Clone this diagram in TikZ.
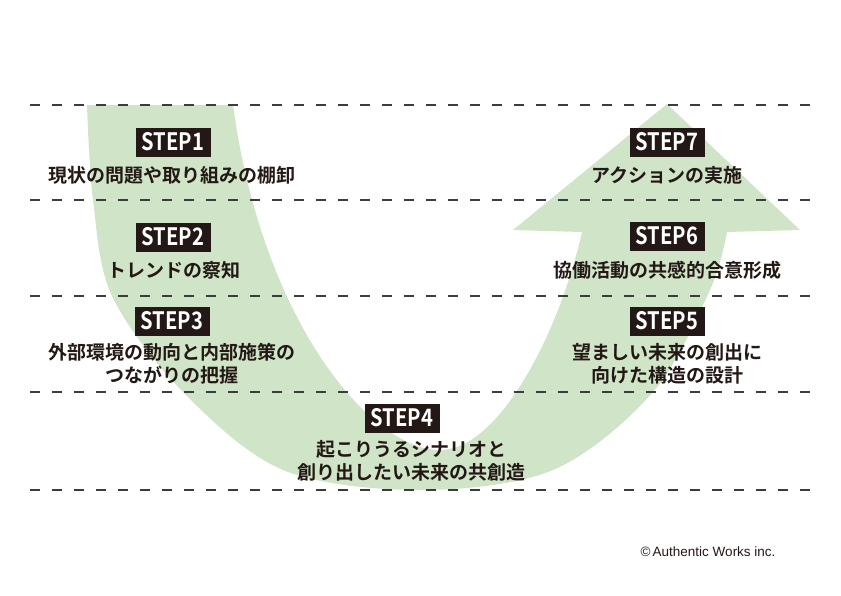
\documentclass[tikz,border=0pt]{standalone}
\usepackage{fontspec}
\usepackage{xcolor}
\definecolor{AWgreen}{HTML}{D0E5C7}
\definecolor{AWink}{HTML}{231815}
\definecolor{AWdash}{HTML}{3C3C3C}
\newfontfamily\jpfont[UprightFont=* Bold]{Noto Sans CJK JP}
\newfontfamily\stepfont[UprightFont=* Bold, FakeStretch=0.84]{Noto Sans CJK JP}
\newfontfamily\notefont{Liberation Sans}

\begin{document}
\begin{tikzpicture}[x=1pt, y=-1pt]
    \tikzset{
  guide/.style={AWdash, line width=1.5pt, dash pattern=on 10pt off 12pt},
  stepbox/.style={fill=AWink, text=white, inner sep=0pt, minimum width=75pt,
    minimum height=29pt, font=\stepfont\fontsize{24}{24}\selectfont},
  stepdesc/.style={AWink, inner sep=0pt, align=center,
    font=\jpfont\fontsize{19}{23}\selectfont},
}
  \useasboundingbox (0,0) rectangle (841,595);

  % U-shaped arrow (swoosh)
  \fill[AWgreen]
    plot[smooth, tension=0.55] coordinates {
      (87,105) (93,200) (112,296) (183,392) (283,470) (420,490) (553,470) (653,392) (710,290) (727,232)
    }
    -- (800,230) -- (667,104) -- (513,230) -- (582,232)
    .. controls (560,330) and (500,450) .. (440,450)
    .. controls (370,450) and (262,320) .. (233,105) -- cycle;

  % Guide lines
  \foreach \y in {105,200,296,392,490}
    \draw[guide] (30,\y) -- (812,\y);

  % Left side
  \node[stepbox] (s1) at (173,142) {STEP1};
  \node[stepdesc] (d1) at (172,175) {現状の問題や取り組みの棚卸};
  \node[stepbox] (s2) at (173,237) {STEP2};
  \node[stepdesc] (d2) at (174,270) {トレンドの察知};
  \node[stepbox] (s3) at (172,321) {STEP3};
  \node[stepdesc] (d3) at (172,364) {外部環境の動向と内部施策の\\つながりの把握};

  % Bottom
  \node[stepbox] (s4) at (402,418) {STEP4};
  \node[stepdesc] (d4) at (411,461) {起こりうるシナリオと\\創り出したい未来の共創造};

  % Right side
  \node[stepbox] (s5) at (667,321) {STEP5};
  \node[stepdesc] (d5) at (667,364) {望ましい未来の創出に\\向けた構造の設計};
  \node[stepbox] (s6) at (667,236) {STEP6};
  \node[stepdesc] (d6) at (667,270) {協働活動の共感的合意形成};
  \node[stepbox] (s7) at (667,142) {STEP7};
  \node[stepdesc] (d7) at (667,175) {アクションの実施};

  \node[AWink, inner sep=0pt, font=\notefont\fontsize{13.5}{13.5}\selectfont] (credit) at (708,552) {©\,Authentic Works inc.};

  \end{tikzpicture}
\end{document}
